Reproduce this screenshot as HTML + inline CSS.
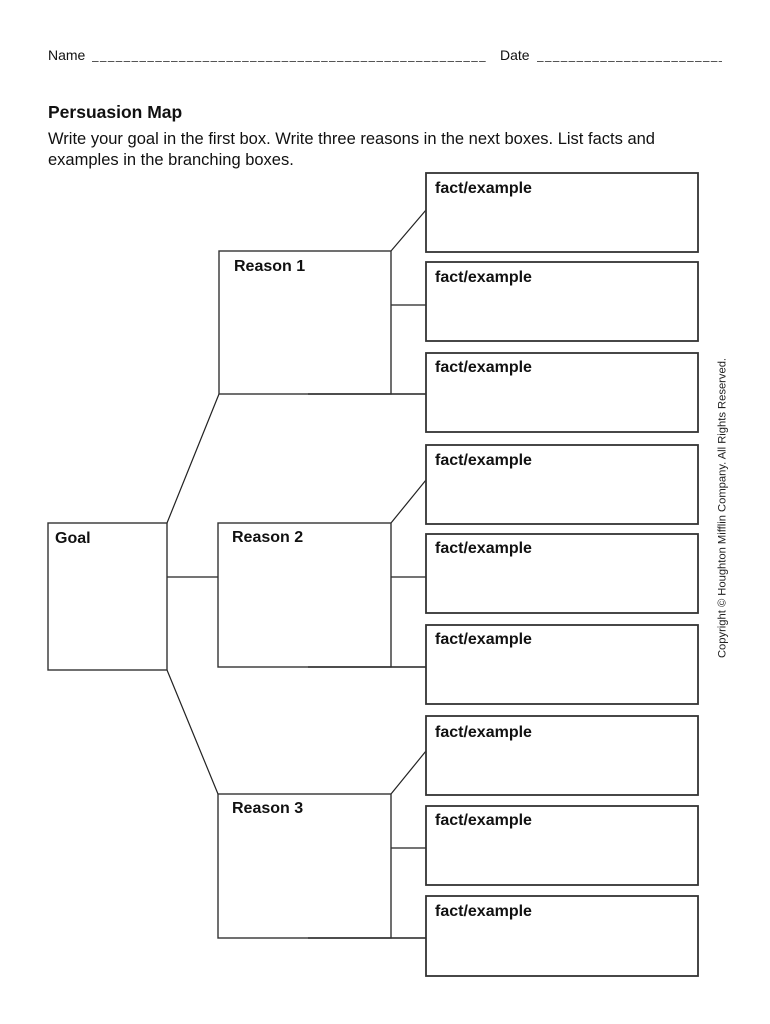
<!DOCTYPE html>
<html>
<head>
<meta charset="utf-8">
<style>
html,body{margin:0;padding:0;background:#fff;}
body{width:770px;height:1024px;overflow:hidden;position:relative;font-family:"Liberation Sans",Arial,sans-serif;}
svg{position:absolute;left:0;top:0;}
</style>
</head>
<body>
<svg width="770" height="1024" viewBox="0 0 770 1024" xmlns="http://www.w3.org/2000/svg" font-family="Liberation Sans, Arial, sans-serif">
  <!-- header -->
  <text x="48" y="60" font-size="14" fill="#111">Name</text>
  <line x1="92" y1="61.5" x2="487" y2="61.5" stroke="#555" stroke-width="1" stroke-dasharray="6.6 1.3"/>
  <text x="500" y="60" font-size="14" fill="#111">Date</text>
  <line x1="537" y1="61.5" x2="722" y2="61.5" stroke="#555" stroke-width="1" stroke-dasharray="6.6 1.3"/>
  <text x="48" y="118" font-size="17.5" font-weight="bold" fill="#111">Persuasion Map</text>
  <text x="48" y="144" font-size="16.5" fill="#111" textLength="607" lengthAdjust="spacingAndGlyphs">Write your goal in the first box. Write three reasons in the next boxes. List facts and</text>
  <text x="48" y="165" font-size="16.5" fill="#111">examples in the branching boxes.</text>

  <!-- connectors -->
  <g stroke="#222" stroke-width="1.2" fill="none">
    <line x1="167" y1="523" x2="219" y2="394"/>
    <line x1="167" y1="577" x2="218" y2="577"/>
    <line x1="167" y1="670" x2="218" y2="794"/>

    <line x1="391" y1="251" x2="426" y2="210"/>
    <line x1="391" y1="305" x2="426" y2="305"/>
    <line x1="308" y1="394" x2="426" y2="394" stroke-width="1.6"/>

    <line x1="391" y1="523" x2="426" y2="480"/>
    <line x1="391" y1="577" x2="426" y2="577"/>
    <line x1="308" y1="667" x2="426" y2="667" stroke-width="1.6"/>

    <line x1="391" y1="794" x2="426" y2="751"/>
    <line x1="391" y1="848" x2="426" y2="848"/>
    <line x1="308" y1="938" x2="426" y2="938" stroke-width="1.6"/>
  </g>

  <!-- main boxes -->
  <g stroke="#333" stroke-width="1.4" fill="none">
    <rect x="48" y="523" width="119" height="147"/>
    <rect x="219" y="251" width="172" height="143"/>
    <rect x="218" y="523" width="173" height="144"/>
    <rect x="218" y="794" width="173" height="144"/>
  </g>

  <!-- fact boxes -->
  <g stroke="#333" stroke-width="1.8" fill="none">
    <rect x="426" y="173" width="272" height="79"/>
    <rect x="426" y="262" width="272" height="79"/>
    <rect x="426" y="353" width="272" height="79"/>
    <rect x="426" y="445" width="272" height="79"/>
    <rect x="426" y="534" width="272" height="79"/>
    <rect x="426" y="625" width="272" height="79"/>
    <rect x="426" y="716" width="272" height="79"/>
    <rect x="426" y="806" width="272" height="79"/>
    <rect x="426" y="896" width="272" height="80"/>
  </g>

  <!-- labels -->
  <g font-size="16" font-weight="bold" fill="#111">
    <text x="55" y="543">Goal</text>
    <text x="234" y="271">Reason 1</text>
    <text x="232" y="542">Reason 2</text>
    <text x="232" y="813">Reason 3</text>

    <text x="435" y="193">fact/example</text>
    <text x="435" y="282">fact/example</text>
    <text x="435" y="372">fact/example</text>
    <text x="435" y="465">fact/example</text>
    <text x="435" y="553">fact/example</text>
    <text x="435" y="644">fact/example</text>
    <text x="435" y="737">fact/example</text>
    <text x="435" y="825">fact/example</text>
    <text x="435" y="916">fact/example</text>
  </g>

  <!-- copyright -->
  <text x="0" y="0" font-size="11.2" fill="#222" text-anchor="middle" transform="translate(725.5,508) rotate(-90)">Copyright © Houghton Mifflin Company. All Rights Reserved.</text>
</svg>
</body>
</html>
